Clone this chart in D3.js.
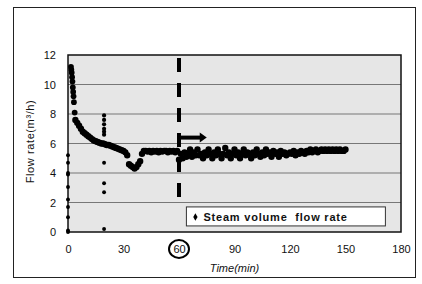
<!DOCTYPE html>
<html>
<head>
<meta charset="utf-8">
<script src="https://cdn.jsdelivr.net/npm/d3@7"></script>
<style>
  body { margin: 0; background: #fff; }
  text { font-family: Arial, "Liberation Sans", sans-serif; }
</style>
</head>
<body>
<div class="chart"></div>
<script>
// startup readings at t = 0
const startT = [0, 0, 0, 0, 0, 0, 0, 0, 0, 0];
const startV = [5.2, 4.7, 4.0, 3.9, 3.05, 2.2, 1.7, 1.0, 0.1, 0];

// first spike
const spikeT = [1.6, 1.8, 2.0, 2.2, 2.4, 2.6, 2.8, 3.0, 3.2, 3.6];
const spikeV = [11.2, 11.0, 10.8, 10.5, 10.2, 9.8, 9.5, 9.2, 8.8, 8.1];

// the column of scattered points near t = 19
const colT = [19.5, 19.5, 19.5, 19.5, 19.5, 19.5, 19.5, 19.5, 19.5, 19.5];
const colV = [7.9, 7.6, 7.3, 7.0, 6.8, 6.6, 4.7, 3.3, 2.7, 0.2];

// main series, one reading per minute from t = 4
const mainV = [
  7.6, 7.4, 7.2, 7.0, 6.8, 6.7, 6.6, 6.5, 6.4, 6.3,
  6.2, 6.15, 6.1, 6.05, 6.0, 6.0, 5.95, 5.9, 5.9, 5.85,
  5.8, 5.75, 5.7, 5.65, 5.6, 5.55, 5.5, 5.4, 5.2, 4.6,
  4.5, 4.4, 4.3, 4.4, 4.6, 4.8, 5.3, 5.5, 5.5, 5.45,
  5.5, 5.4, 5.5, 5.45, 5.5, 5.4, 5.5, 5.45, 5.5, 5.5,
  5.4, 5.5, 5.45, 5.5, 5.4, 5.5,
  4.9, 5.3, 5.0, 5.4, 5.1, 5.3, 5.6, 5.1, 5.4, 5.2,
  5.6, 5.2, 5.3, 5.0, 5.4, 5.2, 5.6, 5.3, 5.0, 5.4,
  5.2, 5.6, 5.3, 5.0, 5.3, 5.7, 5.2, 5.4, 5.0, 5.3,
  5.6, 5.2, 5.4, 5.0, 5.3, 5.6, 5.2, 5.4, 5.3, 5.0,
  5.4, 5.2, 5.6, 5.3, 5.1, 5.4, 5.2, 5.6, 5.3, 5.4,
  5.1, 5.5, 5.3, 5.4, 5.1, 5.5, 5.3, 5.4, 5.2, 5.3,
  5.4, 5.3, 5.5, 5.2, 5.4, 5.3, 5.5, 5.4, 5.3, 5.5,
  5.4, 5.6, 5.4, 5.5, 5.6, 5.4, 5.5, 5.6, 5.5, 5.6,
  5.5, 5.6, 5.5, 5.6, 5.5, 5.6, 5.5, 5.6, 5.5, 5.5, 5.6
];
const mainStart = 4;

const xTicks = [0, 30, 60, 90, 120, 150, 180];
const yTicks = [0, 2, 4, 6, 8, 10, 12];

// annotation: switch-over time and arrow
const markT = 60;
const markTop = 11.8, markBottom = 2.38;
const arrowFrom = 61, arrowTo = 75, arrowV = 6.4;

const W = 422, H = 284;
const margin = {top: 55, left: 68, bottom: 52, right: 21};
const width = W - margin.left - margin.right;
const height = H - margin.top - margin.bottom;

const root = d3.select(".chart").append("svg")
  .attr("width", W).attr("height", H);

// outer frame
root.append("rect")
  .attr("x", 13.5).attr("y", 7.5)
  .attr("width", 402).attr("height", 270)
  .attr("fill", "none").attr("stroke", "#222").attr("stroke-width", 1);

const svg = root.append("g")
  .attr("transform", `translate(${margin.left},${margin.top})`);

const x = d3.scaleLinear().domain([0, 180]).range([0, width]);
const y = d3.scaleLinear().domain([0, 12]).range([height, 0]);

// plot background
svg.append("rect")
  .attr("width", width).attr("height", height)
  .attr("fill", "#e6e6e6");

// gridlines
svg.selectAll(".grid")
  .data(yTicks.filter(d => d > 0 && d < 12))
  .join("line")
  .attr("x1", 0).attr("x2", width)
  .attr("y1", d => y(d)).attr("y2", d => y(d))
  .attr("stroke", "#777").attr("stroke-width", 1);

svg.append("rect")
  .attr("width", width).attr("height", height)
  .attr("fill", "none").attr("stroke", "#111").attr("stroke-width", 1.5);

// axes
const xAxis = d3.axisBottom(x).tickValues(xTicks).tickSize(0).tickPadding(13);
const yAxis = d3.axisLeft(y).tickValues(yTicks).tickSize(0).tickPadding(12);

svg.append("g").attr("transform", `translate(0,${height})`).call(xAxis)
  .call(g => g.select(".domain").remove())
  .selectAll("text").attr("font-size", 11).attr("fill", "#111")
  .attr("font-family", "Liberation Serif, serif");

svg.append("g").call(yAxis)
  .call(g => g.select(".domain").remove())
  .selectAll("text").attr("font-size", 11).attr("fill", "#111")
  .attr("font-family", "Liberation Serif, serif");

// points
const pts = [];
startT.forEach((t, i) => pts.push({t, v: startV[i], s: 12}));
spikeT.forEach((t, i) => pts.push({t, v: spikeV[i], s: 26}));
colT.forEach((t, i) => pts.push({t, v: colV[i], s: i < 6 ? 14 : 12}));
mainV.forEach((v, i) => pts.push({t: mainStart + i, v, s: 32}));

svg.selectAll(".pt")
  .data(pts)
  .join("path")
  .attr("class", "pt")
  .attr("transform", d => `translate(${x(d.t)},${y(d.v)})`)
  .attr("d", d => d3.symbol(d3.symbolCircle, d.s)())
  .attr("fill", "#000");

// dashed marker line at t = 60
svg.append("line")
  .attr("x1", x(markT)).attr("x2", x(markT))
  .attr("y1", y(markTop)).attr("y2", y(markBottom))
  .attr("stroke", "#000").attr("stroke-width", 4)
  .attr("stroke-dasharray", "14,11");

// arrow
svg.append("line")
  .attr("x1", x(arrowFrom)).attr("x2", x(arrowTo) - 6)
  .attr("y1", y(arrowV)).attr("y2", y(arrowV))
  .attr("stroke", "#000").attr("stroke-width", 4);
svg.append("path")
  .attr("d", `M${x(arrowTo) - 7},${y(arrowV) - 5} L${x(arrowTo)},${y(arrowV)} L${x(arrowTo) - 7},${y(arrowV) + 5} Z`)
  .attr("fill", "#000");

// legend
const lg = svg.append("g").attr("transform", `translate(${x(64)},${y(1.7)})`);
lg.append("rect")
  .attr("width", 199).attr("height", 19)
  .attr("fill", "#fff").attr("stroke", "#333").attr("stroke-width", 1);
lg.append("path")
  .attr("transform", "translate(9,10)")
  .attr("d", d3.symbol(d3.symbolDiamond, 16)())
  .attr("fill", "#000");
lg.append("text")
  .attr("x", 17).attr("y", 14)
  .attr("font-size", 11).attr("font-weight", "bold")
  .attr("letter-spacing", 0.8)
  .attr("fill", "#111")
  .style("white-space", "pre")
  .text("Steam volume  flow rate");

// circle around 60
svg.append("ellipse")
  .attr("cx", x(markT)).attr("cy", height + 17)
  .attr("rx", 10).attr("ry", 9)
  .attr("fill", "none").attr("stroke", "#000").attr("stroke-width", 2);

// axis titles
svg.append("text")
  .attr("x", width / 2).attr("y", height + 40)
  .attr("text-anchor", "middle")
  .attr("font-size", 11).attr("font-style", "italic")
  .attr("fill", "#111")
  .text("Time(min)");

svg.append("text")
  .attr("transform", `translate(-34,${height / 2 - 2}) rotate(-90)`)
  .attr("text-anchor", "middle")
  .attr("font-size", 11)
  .attr("letter-spacing", 0.6)
  .attr("fill", "#111")
  .text("Flow rate(m³/h)");
</script>
</body>
</html>
